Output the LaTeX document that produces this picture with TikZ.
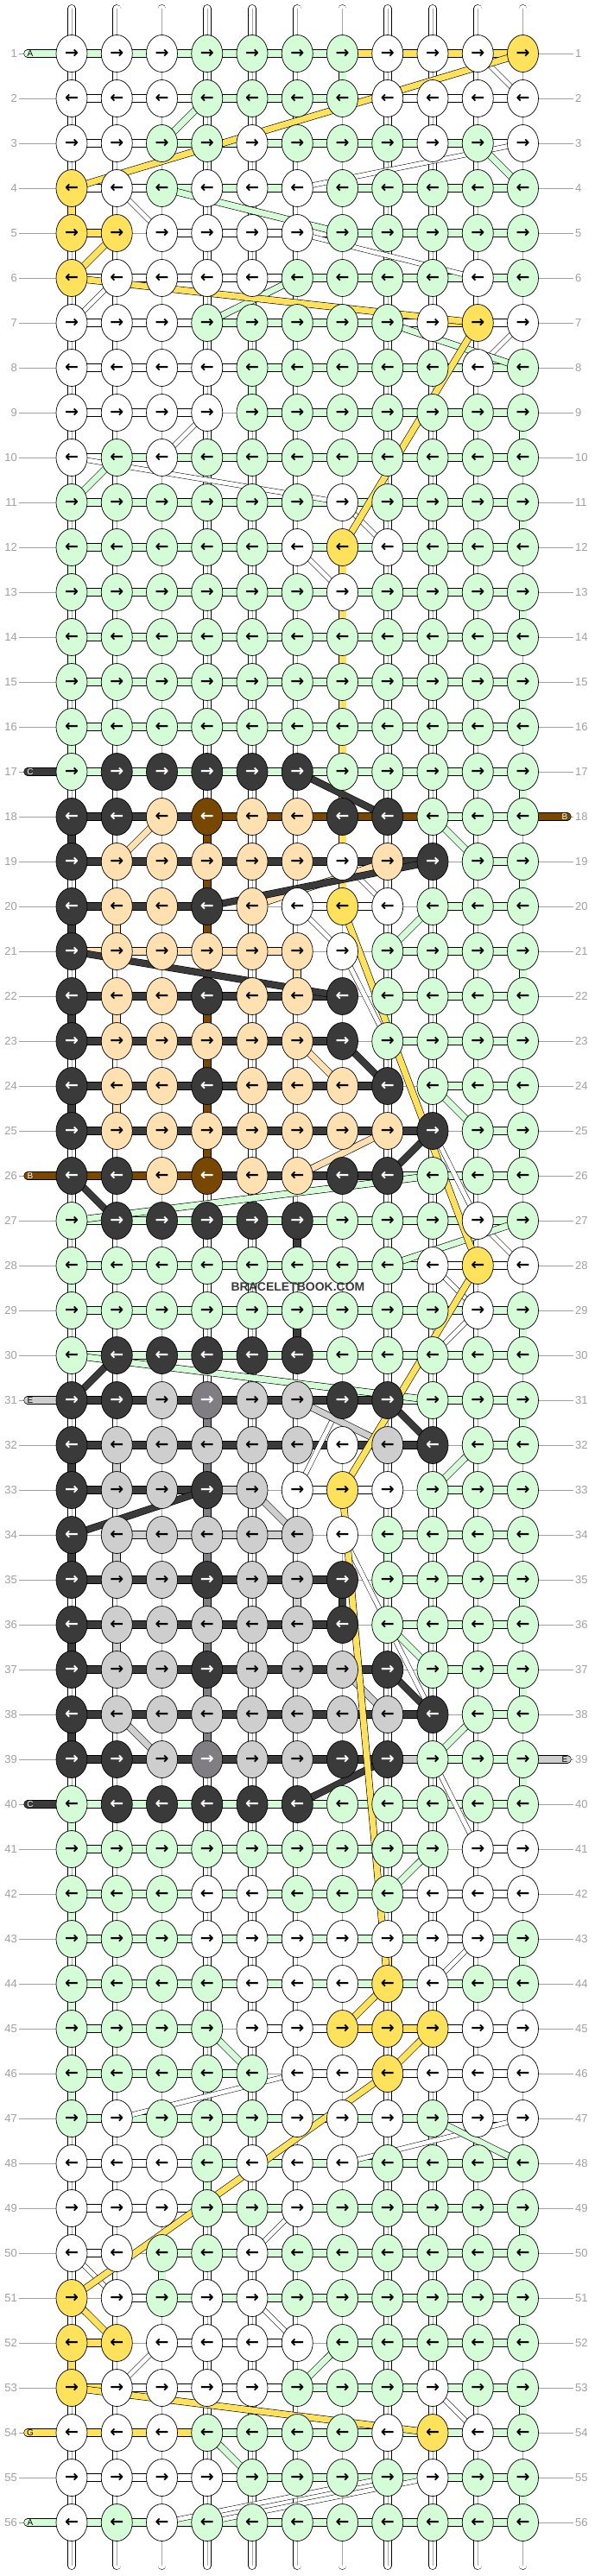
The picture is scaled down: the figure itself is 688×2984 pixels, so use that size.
\documentclass[tikz,border=0pt]{standalone}
\usepackage{fontspec}
\setmainfont{Liberation Sans}
\newfontfamily\arrowfont{DejaVu Sans}
\usetikzlibrary{shapes.geometric,backgrounds}

\definecolor{colW}{RGB}{255,255,255}
\definecolor{colG}{RGB}{212,252,214}
\definecolor{colY}{RGB}{255,226,92}
\definecolor{colD}{RGB}{58,58,58}
\definecolor{colP}{RGB}{255,224,176}
\definecolor{colB}{RGB}{120,72,0}
\definecolor{colS}{RGB}{206,206,206}
\definecolor{colM}{RGB}{128,126,130}
\definecolor{labelgray}{RGB}{160,160,160}

\tikzset{
  knot/.style={ellipse, draw, line width=0.7pt, minimum width=36pt, minimum height=43pt,
    inner sep=0pt, font=\arrowfont\bfseries\fontsize{19}{19}\selectfont},
  kW/.style={knot, fill=colW}, kG/.style={knot, fill=colG}, kY/.style={knot, fill=colY},
  kP/.style={knot, fill=colP}, kS/.style={knot, fill=colS},
  kD/.style={knot, fill=colD, text=white}, kB/.style={knot, fill=colB, text=white},
  kM/.style={knot, fill=colM, text=white},
  bar/.style={double=#1, double distance=8pt, line width=0.6pt},
  barW/.style={bar=colW}, barG/.style={bar=colG}, barY/.style={bar=colY}, barD/.style={bar=colD},
  barP/.style={bar=colP}, barB/.style={bar=colB}, barS/.style={bar=colS},
  barN/.style={draw=labelgray, line width=0.8pt},
  strand/.style={double=white, double distance=8.5pt, line width=0.6pt},
  strandmid/.style={draw=gray!70, line width=0.5pt},
  band/.style={double=#1, double distance=7pt, line width=0.6pt},
  wband/.style={double=white, double distance=5pt, line width=0.5pt},
  rowlab/.style={text=labelgray, font=\fontsize{13}{13}\selectfont, inner sep=2pt},
  labline/.style={draw=labelgray, line width=0.8pt},
  endlab/.style={font=\fontsize{10}{10}\selectfont, inner sep=0pt}
}

\begin{document}
\begin{tikzpicture}[x=1pt,y=-1pt]
\begin{pgfonlayer}{background}
  \fill[white] (0,0) rectangle (688,2984);
\end{pgfonlayer}
\useasboundingbox (0,0) rectangle (688,2984);

\foreach \r/\ks/\bs in {
  1/{W,W,W,G,G,G,G,W,W,W,Y}/{G,G,G,G,G,G,Y,Y,Y,Y},
  2/{W,W,W,G,G,G,G,W,W,W,W}/{W,W,W,G,G,G,W,W,W,W},
  3/{W,W,G,G,W,G,G,G,W,G,W}/{W,W,G,G,G,G,G,G,G,W},
  4/{Y,W,G,W,W,W,G,G,G,G,G}/{W,W,G,G,G,W,G,G,G,G},
  5/{Y,Y,W,W,W,W,G,G,G,G,G}/{Y,N,W,W,W,W,G,G,G,G},
  6/{Y,W,W,W,W,G,G,G,G,W,G}/{W,W,W,W,W,G,G,G,G,G},
  7/{W,W,W,G,G,G,G,G,W,Y,W}/{W,W,W,G,G,G,G,W,Y,W},
  8/{W,W,W,W,G,G,G,G,G,W,G}/{W,W,W,W,G,G,G,G,G,G},
  9/{W,W,W,W,G,G,G,G,G,G,G}/{W,W,W,N,G,G,G,G,G,G},
  10/{W,G,W,G,G,G,G,G,G,G,G}/{W,G,G,G,G,G,G,G,G,G},
  11/{G,G,G,G,G,G,W,G,G,G,G}/{G,G,G,G,G,G,G,G,G,G},
  12/{G,G,G,G,G,W,Y,W,G,G,G}/{G,G,G,G,G,G,G,G,G,G},
  13/{G,G,G,G,G,G,W,G,G,G,G}/{G,G,G,G,G,G,G,G,G,G},
  14/{G,G,G,G,G,G,G,G,G,G,G}/{G,G,G,G,G,G,G,G,G,G},
  15/{G,G,G,G,G,G,G,G,G,G,G}/{G,G,G,G,G,G,G,G,G,G},
  16/{G,G,G,G,G,G,G,G,G,G,G}/{G,G,G,G,G,G,G,G,G,G},
  17/{G,D,D,D,D,D,G,G,G,G,G}/{G,G,G,G,G,G,G,G,G,G},
  18/{D,D,P,B,P,P,D,D,G,G,G}/{D,D,D,B,B,B,B,B,G,G},
  19/{D,P,P,P,P,P,W,P,D,G,G}/{D,D,D,D,D,D,D,D,N,G},
  20/{D,P,P,D,P,W,Y,W,G,G,G}/{D,D,D,W,N,W,W,N,G,G},
  21/{D,P,P,P,P,P,W,G,G,G,G}/{P,P,P,P,P,N,N,G,G,G},
  22/{D,P,P,D,P,P,D,G,G,G,G}/{D,D,D,D,D,D,N,G,G,G},
  23/{D,P,P,P,P,P,D,G,G,G,G}/{D,D,D,D,D,D,N,G,G,G},
  24/{D,P,P,D,P,P,P,D,G,G,G}/{D,D,D,D,D,D,D,N,G,G},
  25/{D,P,P,P,P,P,P,P,D,G,G}/{D,D,D,D,D,D,D,D,N,G},
  26/{D,D,P,B,P,P,D,D,G,G,G}/{B,B,B,D,D,D,D,G,G,G},
  27/{G,D,D,D,D,D,G,G,G,W,G}/{G,G,G,G,G,G,G,G,G,G},
  28/{G,G,G,G,G,G,G,G,W,Y,W}/{G,G,G,G,G,G,G,G,W,W},
  29/{G,G,G,G,G,G,G,G,G,W,G}/{G,G,G,G,G,G,G,G,G,G},
  30/{G,D,D,D,D,D,G,G,G,G,G}/{G,G,G,G,G,G,G,G,G,G},
  31/{D,D,S,M,S,S,D,D,G,G,G}/{D,D,D,D,D,D,D,G,G,G},
  32/{D,S,S,S,S,S,W,S,D,G,G}/{D,D,D,D,D,D,D,D,N,G},
  33/{D,S,S,D,S,W,Y,W,G,G,G}/{D,D,D,S,N,W,W,N,G,G},
  34/{D,S,S,S,S,S,W,G,G,G,G}/{N,S,S,S,S,N,N,G,G,G},
  35/{D,S,S,D,S,S,D,G,G,G,G}/{D,D,D,D,D,D,N,G,G,G},
  36/{D,S,S,S,S,S,D,G,G,G,G}/{D,D,D,D,D,D,N,G,G,G},
  37/{D,S,S,D,S,S,S,D,G,G,G}/{D,D,D,D,D,D,D,N,G,G},
  38/{D,S,S,S,S,S,S,S,D,G,G}/{D,D,D,D,D,D,D,D,N,G},
  39/{D,D,S,M,S,S,D,D,G,G,G}/{D,D,D,D,D,D,D,S,G,G},
  40/{G,D,D,D,D,D,G,G,G,G,G}/{G,G,G,G,G,G,G,G,G,G},
  41/{G,G,G,G,G,G,G,G,G,W,W}/{G,G,G,G,G,G,G,G,N,W},
  42/{G,G,G,W,W,G,G,G,W,W,W}/{G,G,G,G,G,G,G,W,W,W},
  43/{G,G,G,W,W,W,W,W,W,W,G}/{G,G,G,G,G,G,G,G,W,G},
  44/{G,G,G,G,W,W,W,Y,W,G,G}/{G,G,G,G,G,G,G,G,G,G},
  45/{G,G,G,G,W,W,Y,Y,Y,W,W}/{G,G,G,N,W,W,Y,Y,W,W},
  46/{G,G,G,G,G,W,W,Y,W,W,W}/{G,G,G,G,N,W,W,W,W,W},
  47/{G,W,G,G,G,W,W,W,G,W,W}/{G,G,G,G,G,G,G,G,W,W},
  48/{W,W,W,G,W,W,W,G,G,G,G}/{W,W,W,G,G,G,G,G,G,G},
  49/{W,W,W,G,G,W,G,G,G,G,G}/{W,W,W,G,G,G,G,G,G,G},
  50/{W,W,G,G,W,G,G,G,G,G,G}/{W,N,G,G,G,G,G,G,G,G},
  51/{Y,W,G,W,W,G,G,G,G,G,G}/{N,W,G,G,G,G,G,G,G,G},
  52/{Y,Y,W,W,W,W,G,G,G,G,G}/{Y,N,W,W,W,N,G,G,G,G},
  53/{Y,W,W,W,W,G,G,G,W,G,G}/{Y,W,W,W,W,G,G,G,G,G},
  54/{W,W,W,G,G,G,G,W,Y,W,G}/{Y,Y,Y,G,G,G,G,G,G,G},
  55/{W,W,W,W,G,G,G,G,W,G,G}/{W,W,W,W,G,G,G,G,G,G},
  56/{W,G,W,G,G,G,G,G,G,G,G}/{G,G,G,G,G,G,G,G,G,G}}{
  \ifodd\r\relax \def\knotarrow{→}\else \def\knotarrow{←}\fi
  \foreach \k [count=\c] in \ks
    \node[k\k] (\r-\c) at ({83+52.25*(\c-1)},{62+52*(\r-1)}) {\knotarrow};
  \begin{pgfonlayer}{background}
    \foreach \b [count=\c] in \bs {
      \pgfmathtruncatemacro\n{\c+1}
      \draw[bar\b] (\r-\c.center) -- (\r-\n.center);
    }
  \end{pgfonlayer}
}

\begin{pgfonlayer}{background}
\foreach \r in {1,...,55}{
  \pgfmathtruncatemacro\n{\r+1}
  \foreach \c in {1,...,11}{
    \draw[strand] (\r-\c.center) -- (\n-\c.center);
    \draw[strandmid] (\r-\c.center) -- (\n-\c.center);
  }
}
\foreach \c in {1,...,11}{
  \coordinate (top-\c) at ({83+52.25*(\c-1)},10);
  \coordinate (bot-\c) at ({83+52.25*(\c-1)},2972);
  \draw[strand, line cap=round] (top-\c) -- (1-\c.center);
  \draw[strandmid] (top-\c) -- (1-\c.center);
  \draw[strand, line cap=round] (56-\c.center) -- (bot-\c);
  \draw[strandmid] (56-\c.center) -- (bot-\c);
}
\foreach \r/\c/\q in {1/7/G, 4/1/Y, 8/5/G, 9/11/G, 11/11/G, 12/1/G, 12/7/Y, 13/7/Y, 13/11/G,
  14/1/G, 14/7/Y, 15/7/Y, 15/11/G, 16/1/G, 16/7/Y, 17/7/Y, 17/11/G, 18/1/D, 18/4/B, 18/7/Y,
  19/4/B, 19/7/Y, 19/11/G, 20/1/D, 20/2/P, 20/4/B, 21/4/B, 21/6/P, 21/11/G, 22/1/D, 22/2/P,
  22/4/B, 22/8/G, 23/4/B, 24/1/D, 24/2/P, 24/4/B, 25/4/B, 25/11/G, 27/6/D, 28/1/G, 29/6/D,
  29/11/G, 31/4/M, 31/11/G, 32/1/D, 32/2/S, 32/4/M, 33/4/M, 34/1/D, 34/2/S, 34/4/M, 34/8/G,
  35/4/M, 35/6/S, 35/7/D, 35/11/G, 36/1/D, 36/2/S, 36/4/M, 37/4/M, 37/11/G, 38/1/D, 38/4/M,
  39/11/G, 40/1/G, 42/1/G, 43/8/Y, 43/11/G, 44/1/G, 46/1/G, 48/4/G, 49/11/G, 50/3/G,
  51/11/G, 52/1/Y, 53/11/G, 55/11/G}{
  \pgfmathtruncatemacro\n{\r+1}
  \draw[bar=col\q] (\r-\c.center) -- (\n-\c.center);
}

\foreach \ra/\ca/\rb/\cb in {1/10/2/11, 3/11/4/6, 4/2/5/3, 5/6/6/10, 6/2/7/1, 7/11/8/10, 9/4/10/3,
  10/1/11/7, 11/7/12/8, 12/6/13/7, 19/7/20/8, 20/6/21/7, 21/7/23/8, 25/9/27/10, 27/10/28/11,
  28/9/29/10, 29/10/30/9, 31/7/33/6, 34/7/36/8, 36/8/38/9, 39/9/41/10, 43/10/44/9, 46/6/47/2,
  47/11/48/7, 49/6/50/5, 50/1/51/2, 51/5/52/6, 52/3/53/2, 53/9/54/10, 55/8/56/3, 55/9/56/4}
  \draw[wband] (\ra-\ca.center) -- (\rb-\cb.center);

\foreach \ra/\ca/\rb/\cb/\q in {2/4/3/3/G, 3/10/4/11/G, 4/3/5/7/G, 6/6/7/4/G, 7/8/8/11/G,
  10/2/11/1/G, 18/9/19/10/G, 20/9/21/8/G, 24/9/25/10/G, 26/9/27/1/G, 27/11/28/8/G,
  30/1/31/9/G, 32/10/33/9/G, 36/8/37/9/G, 38/10/39/9/G, 41/9/42/8/G, 45/4/46/5/G,
  47/9/48/11/G, 52/7/53/6/G, 54/4/55/5/G,
  18/3/19/2/P, 19/8/20/5/P, 23/6/24/7/P, 25/8/26/6/P,
  31/6/32/8/S, 33/5/34/6/S, 37/7/38/8/S, 38/2/39/3/S,
  17/6/18/8/D, 19/9/20/4/D, 21/1/22/7/D, 23/7/24/8/D, 25/9/26/8/D, 26/1/27/2/D,
  30/2/31/1/D, 31/8/32/9/D, 33/4/34/1/D, 37/8/38/9/D, 39/8/40/6/D,
  1/11/4/1/Y, 5/2/6/1/Y, 6/1/7/10/Y, 7/10/12/7/Y, 20/7/28/10/Y, 28/10/33/7/Y,
  33/7/44/8/Y, 44/8/45/7/Y, 45/9/46/8/Y, 46/8/51/1/Y, 51/1/52/2/Y, 53/1/54/9/Y}
  \draw[band=col\q] (\ra-\ca.center) -- (\rb-\cb.center);
\end{pgfonlayer}

\foreach \r in {1,...,56}{
  \node[rowlab, anchor=east] (ln-\r) at (22,{62+52*(\r-1)}) {\r};
  \node[rowlab, anchor=west] (rn-\r) at (664,{62+52*(\r-1)}) {\r};
  \begin{pgfonlayer}{background}
    \draw[labline] (ln-\r) -- (\r-1);
    \draw[labline] (\r-11) -- (rn-\r);
  \end{pgfonlayer}
}

\foreach \r/\q/\t/\tc in {1/G/A/black, 17/D/C/white, 26/B/B/white, 31/S/E/black,
  40/D/C/white, 54/Y/G/black, 56/G/A/black}{
  \coordinate (end-\r) at (32,{62+52*(\r-1)});
  \begin{pgfonlayer}{background}
    \draw[bar=col\q, line cap=round] (end-\r) -- (\r-1.center);
  \end{pgfonlayer}
  \node[endlab, text=\tc] (tl-\r) at (35,{62+52*(\r-1)}) {\t};
}
\foreach \r/\q/\t/\tc in {18/B/B/white, 39/S/E/black}{
  \coordinate (end-\r) at (657,{62+52*(\r-1)});
  \begin{pgfonlayer}{background}
    \draw[bar=col\q, line cap=round] (\r-11.center) -- (end-\r);
  \end{pgfonlayer}
  \node[endlab, text=\tc] (tr-\r) at (654,{62+52*(\r-1)}) {\t};
}

\node[font=\bfseries\fontsize{14}{14}\selectfont, text=colD] (mark) at (345,1491) {BRACELETBOOK.COM};
\end{tikzpicture}
\end{document}
